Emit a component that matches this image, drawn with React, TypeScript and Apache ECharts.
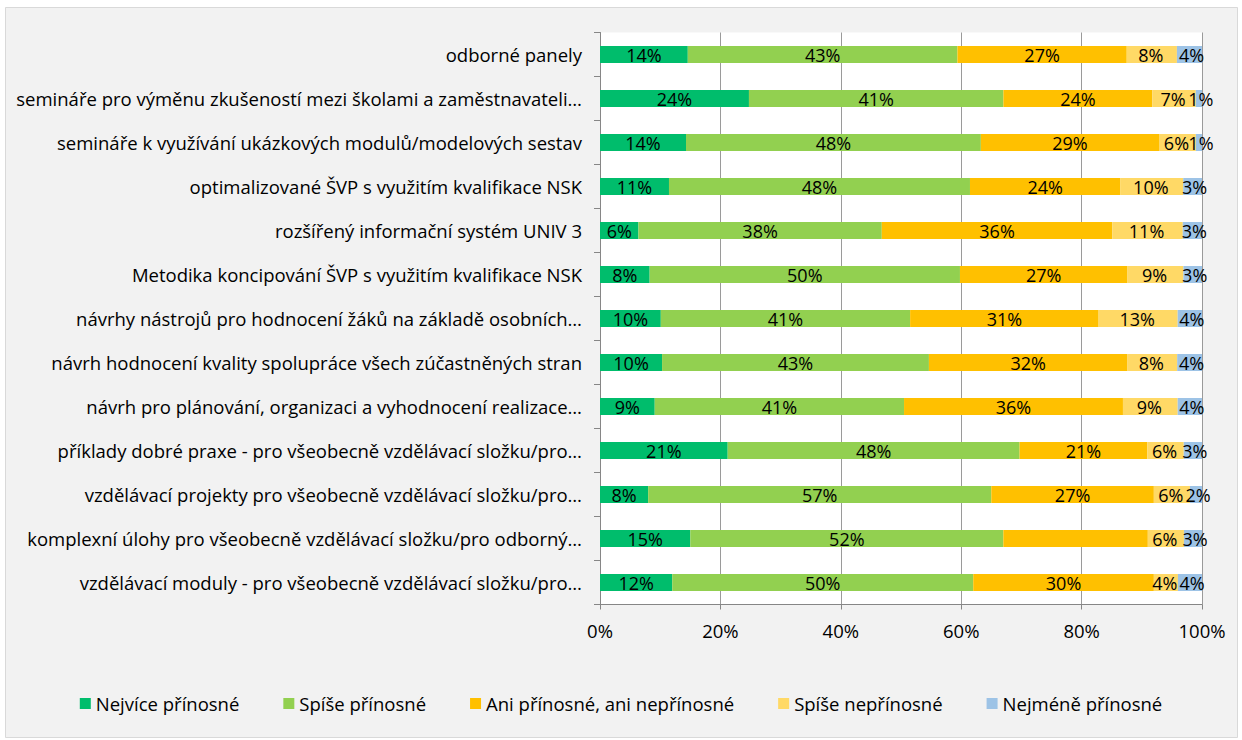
import React, { useEffect, useRef } from "react";
import * as echarts from "echarts";

const categories = [
  "odborné panely",
  "semináře pro výměnu zkušeností mezi školami a zaměstnavateli…",
  "semináře k využívání ukázkových modulů/modelových sestav",
  "optimalizované ŠVP s využitím kvalifikace NSK",
  "rozšířený informační systém UNIV 3",
  "Metodika koncipování ŠVP s využitím kvalifikace NSK",
  "návrhy nástrojů pro hodnocení žáků na základě osobních…",
  "návrh hodnocení kvality spolupráce všech zúčastněných stran",
  "návrh pro plánování, organizaci a vyhodnocení realizace…",
  "příklady dobré praxe - pro všeobecně vzdělávací složku/pro…",
  "vzdělávací projekty pro všeobecně vzdělávací složku/pro…",
  "komplexní úlohy pro všeobecně vzdělávací složku/pro odborný…",
  "vzdělávací moduly - pro všeobecně vzdělávací složku/pro…",
];

const seriesNames = [
  "Nejvíce přínosné",
  "Spíše přínosné",
  "Ani přínosné, ani nepřínosné",
  "Spíše nepřínosné",
  "Nejméně přínosné",
];

const nejvice = [14, 24, 14, 11, 6, 8, 10, 10, 9, 21, 8, 15, 12];
const spise = [43, 41, 48, 48, 38, 50, 41, 43, 41, 48, 57, 52, 50];
const ani = [27, 24, 29, 24, 36, 27, 31, 32, 36, 21, 27, 24, 30];
const spiseNe = [8, 7, 6, 10, 11, 9, 13, 8, 9, 6, 6, 6, 4];
const nejmene = [4, 1, 1, 3, 3, 3, 4, 4, 4, 3, 2, 3, 4];

// data labels not shown in the original: [seriesIndex, categoryIndex]
const hiddenLabels = [[2, 11]];

const xTicks = [0, 20, 40, 60, 80, 100];

const colors = ["#00bd6c", "#92d050", "#ffc000", "#ffd966", "#9dc3e6"];

const FONT = "'Open Sans', 'Noto Sans', sans-serif";
const FS = 18.5;
const LABEL_FS = 18;

export default function App() {
  const ref = useRef<HTMLDivElement>(null);
  useEffect(() => {
    if (!ref.current) return;
    const chart = echarts.init(ref.current, undefined, { renderer: "svg" });
    const all = [nejvice, spise, ani, spiseNe, nejmene];
    const sums = categories.map((_, i) => all.reduce((s, arr) => s + arr[i], 0));
    const series = all.map((arr, si) => ({
      name: seriesNames[si],
      type: "bar",
      stack: "total",
      barWidth: 17,
      itemStyle: { color: colors[si] },
      label: {
        show: true,
        position: "inside",
        color: "#000",
        fontFamily: FONT,
        fontSize: LABEL_FS,
        offset: si === 4 ? [2, 0] : si === 3 ? [-1, 0] : [0, 0],
        formatter: (p: any) => `${arr[p.dataIndex]}%`,
      },
      data: arr.map((v, i) => {
        const hidden = hiddenLabels.some(([s, c]) => s === si && c === i);
        const item: any = { value: (v / sums[i]) * 100 };
        if (hidden) item.label = { show: false };
        return item;
      }),
    }));
    chart.setOption({
      animation: false,
      backgroundColor: "#ffffff",
      graphic: [
        {
          type: "rect",
          shape: { x: 5.5, y: 7.5, width: 1232, height: 730 },
          style: { fill: "#f2f2f2", stroke: "#d9d9d9", lineWidth: 1 },
          z: -10,
          silent: true,
        },
      ],
      grid: {
        left: 600,
        right: 40,
        top: 32.5,
        bottom: 135.5,
        show: true,
        backgroundColor: "#ffffff",
        borderWidth: 0,
      },
      legend: {
        top: 689,
        left: "center",
        itemGap: 44,
        itemWidth: 11,
        itemHeight: 11,
        icon: "rect",
        textStyle: { fontFamily: FONT, fontSize: FS, color: "#000" },
        data: seriesNames,
      },
      xAxis: {
        type: "value",
        min: xTicks[0],
        max: xTicks[xTicks.length - 1],
        interval: 20,
        axisLine: { show: true, lineStyle: { color: "#868686" } },
        axisTick: { show: true, length: 5, lineStyle: { color: "#868686" } },
        splitLine: { show: true, lineStyle: { color: "#9a9a9a" } },
        axisLabel: {
          formatter: (v: number) => `${v}%`,
          color: "#000",
          fontFamily: FONT,
          fontSize: FS,
          margin: 16,
        },
      },
      yAxis: {
        type: "category",
        inverse: true,
        data: categories,
        axisLine: { show: true, lineStyle: { color: "#868686" } },
        axisTick: { show: true, length: 6, lineStyle: { color: "#868686" } },
        axisLabel: {
          color: "#000",
          fontFamily: FONT,
          fontSize: FS,
          margin: 18,
        },
      },
      series,
    });
    return () => chart.dispose();
  }, []);
  return (
    <div
      ref={ref}
      style={{ position: "fixed", left: 0, top: 0, width: 1242, height: 740 }}
    />
  );
}
